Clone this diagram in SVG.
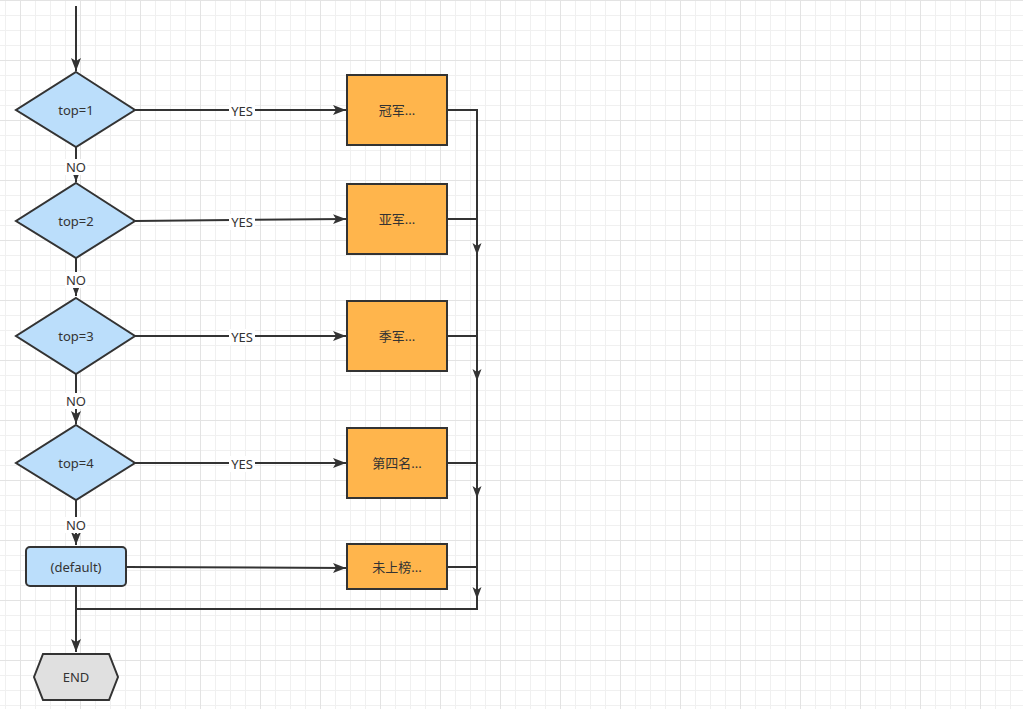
<svg xmlns="http://www.w3.org/2000/svg" width="1023" height="709" viewBox="0 0 1023 709">
<style>
.ln{fill:none;stroke:#333;stroke-width:2}
.dia{fill:#bbdefb;stroke:#333;stroke-width:2}
.box{fill:#ffb54c;stroke:#333;stroke-width:2}
.end{fill:#e0e0e0;stroke:#333;stroke-width:2}
.t{font-family:"Noto Sans","Noto Sans CJK SC",sans-serif;font-size:13px;fill:#333;text-anchor:middle;dominant-baseline:central}
.lb{fill:#fff}
.ah{fill:#333}
</style>
<defs>
<pattern id="grid" patternUnits="userSpaceOnUse" x="20" y="0" width="60" height="60">
<path d="M15.5 0V60M30.5 0V60M45.5 0V60M0 15.5H60M0 30.5H60M0 45.5H60" stroke="#f0f0f0" stroke-width="1" fill="none"/>
<path d="M0.5 0V60M0 0.5H60" stroke="#e3e3e3" stroke-width="1" fill="none"/>
</pattern>
<marker id="arr" markerUnits="userSpaceOnUse" markerWidth="14" markerHeight="12" refX="13" refY="5" orient="auto" viewBox="0 0 14 10">
<path d="M0,0 L13,5 L0,10 L3,5 z" fill="#333"/>
</marker>
</defs>
<rect width="1023" height="709" fill="#fff"/>
<rect width="1023" height="709" fill="url(#grid)"/>
<g id="connectors">
<path class="ln" d="M76 6V71" marker-end="url(#arr)"/>
<path class="ln" d="M135 110H346" marker-end="url(#arr)"/>
<path class="ln" d="M135 221L346 219" marker-end="url(#arr)"/>
<path class="ln" d="M135 336H346" marker-end="url(#arr)"/>
<path class="ln" d="M135 463H346" marker-end="url(#arr)"/>
<path class="ln" d="M126 567L346 568" marker-end="url(#arr)"/>
<path class="ln" d="M76 147V182" marker-end="url(#arr)"/>
<path class="ln" d="M76 258V296" marker-end="url(#arr)"/>
<path class="ln" d="M76 374V424" marker-end="url(#arr)"/>
<path class="ln" d="M76 500V545" marker-end="url(#arr)"/>
<path class="ln" d="M76 586V652" marker-end="url(#arr)"/>
<path class="ln" d="M447 110H477V609H76"/>
<path class="ln" d="M447 219H477M447 336H477M447 463H477M447 567H477"/>
<path class="ah" d="M472.5 243L477 246L481.5 243L477 255z"/>
<path class="ah" d="M472.5 369L477 372L481.5 369L477 381z"/>
<path class="ah" d="M472.5 486L477 489L481.5 486L477 498z"/>
<path class="ah" d="M472.5 587L477 590L481.5 587L477 599z"/>
<rect class="lb" x="229" y="103" width="26" height="16"/>
<text class="t" x="242" y="111">YES</text>
<rect class="lb" x="229" y="214" width="26" height="16"/>
<text class="t" x="242" y="222">YES</text>
<rect class="lb" x="229" y="329" width="26" height="16"/>
<text class="t" x="242" y="337">YES</text>
<rect class="lb" x="229" y="456" width="26" height="16"/>
<text class="t" x="242" y="464">YES</text>
<rect class="lb" x="65" y="159" width="22" height="16"/>
<text class="t" x="76" y="167">NO</text>
<rect class="lb" x="65" y="272" width="22" height="16"/>
<text class="t" x="76" y="280">NO</text>
<rect class="lb" x="65" y="393" width="22" height="16"/>
<text class="t" x="76" y="401">NO</text>
<rect class="lb" x="65" y="517" width="22" height="16"/>
<text class="t" x="76" y="525">NO</text>
</g>
<g id="d1"><polygon class="dia" points="76,72 135,110 76,147 16,110"/><text class="t" x="76" y="110">top=1</text></g>
<g id="d2"><polygon class="dia" points="76,183 135,221 76,258 16,221"/><text class="t" x="76" y="221">top=2</text></g>
<g id="d3"><polygon class="dia" points="76,298 135,336 76,374 16,336"/><text class="t" x="76" y="336">top=3</text></g>
<g id="d4"><polygon class="dia" points="76,425 135,463 76,500 16,463"/><text class="t" x="76" y="463">top=4</text></g>
<g id="dflt"><rect class="dia" x="26" y="547" width="100" height="39" rx="4"/><text class="t" x="76" y="567">(default)</text></g>
<g id="r1"><rect class="box" x="347" y="75" width="100" height="70"/><text class="t" x="397" y="110">冠军...</text></g>
<g id="r2"><rect class="box" x="347" y="184" width="100" height="70"/><text class="t" x="397" y="219">亚军...</text></g>
<g id="r3"><rect class="box" x="347" y="301" width="100" height="70"/><text class="t" x="397" y="336">季军...</text></g>
<g id="r4"><rect class="box" x="347" y="428" width="100" height="70"/><text class="t" x="397" y="463">第四名...</text></g>
<g id="r5"><rect class="box" x="347" y="544" width="100" height="45"/><text class="t" x="397" y="567">未上榜...</text></g>
<g id="end"><polygon class="end" points="34,677 43,654 109,654 118,677 109,700 43,700"/><text class="t" x="76" y="677">END</text></g>
</svg>
